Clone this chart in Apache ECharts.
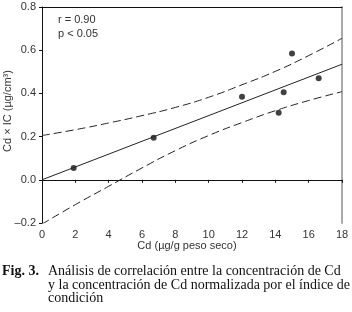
<!DOCTYPE html>
<html>
<head>
<meta charset="utf-8">
<script src="https://cdn.jsdelivr.net/npm/echarts@6/dist/echarts.min.js"></script>
<style>
  html, body { margin: 0; padding: 0; background: #fff; }
  #chart { width: 352px; height: 312px; }
</style>
</head>
<body>
<div id="chart"></div>
<script>
// observed points (Cd, Cd x IC)
const cdValues = [1.9, 6.7, 12.0, 14.2, 14.5, 15.0, 16.6];
const icValues = [0.055, 0.195, 0.385, 0.31, 0.405, 0.585, 0.47];

// regression line end points
const fitX = [0, 18];
const fitY = [0.0, 0.535];

// confidence band
const bandX = [0, 2, 4, 6, 8, 10, 12, 14, 16, 18];
const bandUpper = [0.205, 0.232, 0.263, 0.297, 0.335, 0.382, 0.44, 0.502, 0.575, 0.655];
const bandLower = [-0.205, -0.115, -0.03, 0.055, 0.135, 0.205, 0.265, 0.32, 0.367, 0.408];

const xTicks = [0, 2, 4, 6, 8, 10, 12, 14, 16, 18];
const yTicks = [-0.2, 0.0, 0.2, 0.4, 0.6, 0.8];

const chart = echarts.init(document.getElementById('chart'));

const pair = (xs, ys) => xs.map((x, i) => [x, ys[i]]);
const labelFont = { fontFamily: 'Liberation Sans, Arial, sans-serif', fontSize: 11, color: '#333' };
const captionFont = '14px "Liberation Serif", "Times New Roman", serif';

chart.setOption({
    animation: false,
    grid: { left: 42, right: 10, top: 7, bottom: 89 },
    xAxis: [
        {
            type: 'value', min: xTicks[0], max: xTicks[xTicks.length - 1], interval: 2,
            axisLine: { lineStyle: { color: '#111', width: 1 } },
            axisTick: { show: true, length: 3, lineStyle: { color: '#111' } },
            axisLabel: Object.assign({ margin: 6 }, labelFont),
            splitLine: { show: false }
        },
        {
            type: 'value', position: 'top', min: 0, max: 18,
            axisLine: { show: true, onZero: false, lineStyle: { color: '#111', width: 1 } },
            axisTick: { show: false }, axisLabel: { show: false }, splitLine: { show: false }
        }
    ],
    yAxis: [
        {
            type: 'value', min: yTicks[0], max: yTicks[yTicks.length - 1], interval: 0.2,
            axisLine: { show: true, onZero: false, lineStyle: { color: '#111', width: 1 } },
            axisTick: { show: true, length: 3, lineStyle: { color: '#111' } },
            axisLabel: Object.assign({
                margin: 6,
                formatter: v => v.toFixed(1).replace('-', '\u2013')
            }, labelFont),
            splitLine: { show: false }
        },
        {
            type: 'value', position: 'right', min: -0.2, max: 0.8,
            axisLine: { show: true, onZero: false, lineStyle: { color: '#aaa', width: 2 } },
            axisTick: { show: false }, axisLabel: { show: false }, splitLine: { show: false }
        }
    ],
    series: [
        {
            type: 'line', data: pair(bandX, bandUpper), smooth: true, symbol: 'none',
            lineStyle: { color: '#222', width: 1, type: [8, 4] }
        },
        {
            type: 'line', data: pair(bandX, bandLower), smooth: true, symbol: 'none',
            lineStyle: { color: '#222', width: 1, type: [8, 4] }
        },
        {
            type: 'line', data: pair(fitX, fitY), symbol: 'none',
            lineStyle: { color: '#222', width: 1 }
        },
        {
            type: 'scatter', data: pair(cdValues, icValues), symbolSize: 6,
            itemStyle: { color: '#111' }
        }
    ],
    graphic: [
        { type: 'text', left: 58, top: 14, style: Object.assign({ text: 'r = 0.90' }, labelFont, { fill: '#333' }) },
        { type: 'text', left: 58, top: 28, style: Object.assign({ text: 'p < 0.05' }, labelFont, { fill: '#333' }) },
        {
            type: 'text', x: 187, y: 246,
            style: { text: 'Cd (\u00b5g/g peso seco)', font: '11px "Liberation Sans", Arial, sans-serif', fill: '#333', align: 'center', verticalAlign: 'middle' }
        },
        {
            type: 'text', x: 8, y: 111, rotation: Math.PI / 2,
            style: { text: 'Cd \u00d7 IC (\u00b5g/cm\u00b3)', font: '11px "Liberation Sans", Arial, sans-serif', fill: '#333', align: 'center', verticalAlign: 'middle' }
        },
        {
            type: 'text', x: 2, y: 271,
            style: { text: 'Fig. 3.', font: 'bold ' + captionFont, fill: '#111', verticalAlign: 'middle' }
        },
        {
            type: 'text', x: 48, y: 271,
            style: { text: 'Análisis de correlación entre la concentración de Cd', font: captionFont, fill: '#111', verticalAlign: 'middle' }
        },
        {
            type: 'text', x: 48, y: 285,
            style: { text: 'y la concentración de Cd normalizada por el índice de', font: captionFont, fill: '#111', verticalAlign: 'middle' }
        },
        {
            type: 'text', x: 48, y: 298,
            style: { text: 'condición', font: captionFont, fill: '#111', verticalAlign: 'middle' }
        }
    ]
});
</script>
</body>
</html>
